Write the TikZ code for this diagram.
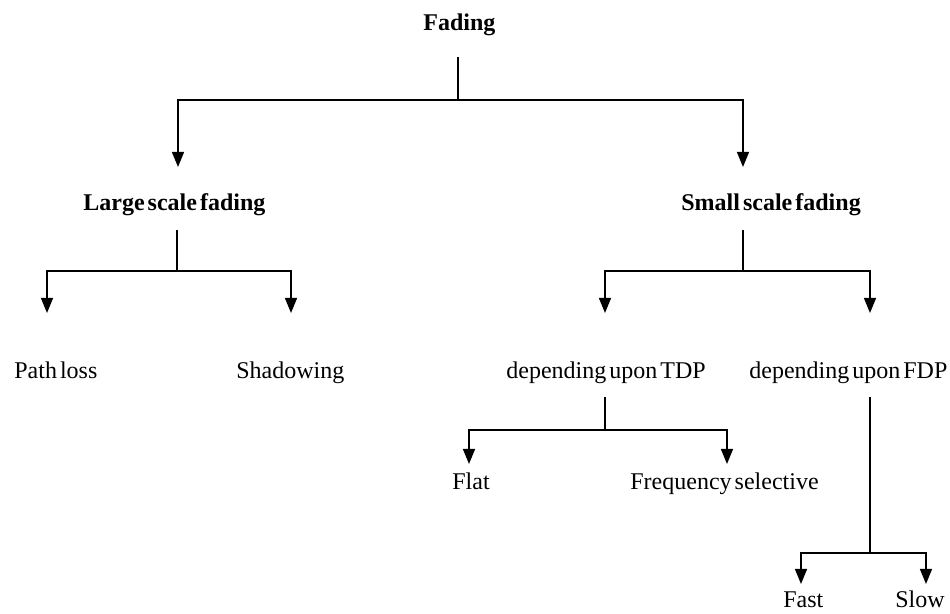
\documentclass[tikz,border=0pt]{standalone}
\usepackage{fontspec}
\setmainfont{Liberation Serif}[WordSpace=0.5]
\usetikzlibrary{arrows.meta,positioning}

\begin{document}
\begin{tikzpicture}[x=0.5pt, y=-0.5pt,
  txt/.style={font=\fontsize{12}{14}\selectfont, inner sep=0pt, anchor=base west},
  head/.style={txt, font=\fontsize{12}{14}\selectfont\bfseries},
  link/.style={line width=0.65pt},
  arrow/.style={link, -{Triangle[length=7.5pt, width=6pt]}}]
  \useasboundingbox (0,0) rectangle (950,614);
  % Labels
  \node[head] (fading) at (423,31) {Fading};
  \node[head] (large) at (83,211) {Large scale fading};
  \node[head] (small) at (681,211) {Small scale fading};
  \node[txt] (pathloss) at (14,379) {Path loss};
  \node[txt] (shadow) at (236,379) {Shadowing};
  \node[txt] (tdp) at (506,379) {depending upon TDP};
  \node[txt] (fdp) at (749,379) {depending upon FDP};
  \node[txt] (flat) at (452,490) {Flat};
  \node[txt] (freq) at (630,490) {Frequency selective};
  \node[txt] (fast) at (783,608) {Fast};
  \node[txt] (slow) at (895,608) {Slow};
  % Junctions
  \coordinate (fading-stem) at (458,57);
  \coordinate (fading-split) at (458,100);
  \coordinate (large-in) at (178,167);
  \coordinate (small-in) at (743,167);
  \coordinate (large-stem) at (177,230);
  \coordinate (large-split) at (177,271);
  \coordinate (pathloss-in) at (47,313);
  \coordinate (shadow-in) at (291,313);
  \coordinate (small-stem) at (743,230);
  \coordinate (small-split) at (743,271);
  \coordinate (tdp-in) at (605,313);
  \coordinate (fdp-in) at (870,313);
  \coordinate (tdp-stem) at (605,397);
  \coordinate (tdp-split) at (605,430);
  \coordinate (flat-in) at (469,464);
  \coordinate (freq-in) at (727,464);
  \coordinate (fdp-stem) at (870,397);
  \coordinate (fdp-split) at (870,553);
  \coordinate (fast-in) at (801,584);
  \coordinate (slow-in) at (926,584);
  % Branches
  \draw[link] (fading-stem) -- (fading-split);
  \draw[arrow] (fading-split) -| (large-in);
  \draw[arrow] (fading-split) -| (small-in);
  \draw[link] (large-stem) -- (large-split);
  \draw[arrow] (large-split) -| (pathloss-in);
  \draw[arrow] (large-split) -| (shadow-in);
  \draw[link] (small-stem) -- (small-split);
  \draw[arrow] (small-split) -| (tdp-in);
  \draw[arrow] (small-split) -| (fdp-in);
  \draw[link] (tdp-stem) -- (tdp-split);
  \draw[arrow] (tdp-split) -| (flat-in);
  \draw[arrow] (tdp-split) -| (freq-in);
  \draw[link] (fdp-stem) -- (fdp-split);
  \draw[arrow] (fdp-split) -| (fast-in);
  \draw[arrow] (fdp-split) -| (slow-in);
\end{tikzpicture}
\end{document}
